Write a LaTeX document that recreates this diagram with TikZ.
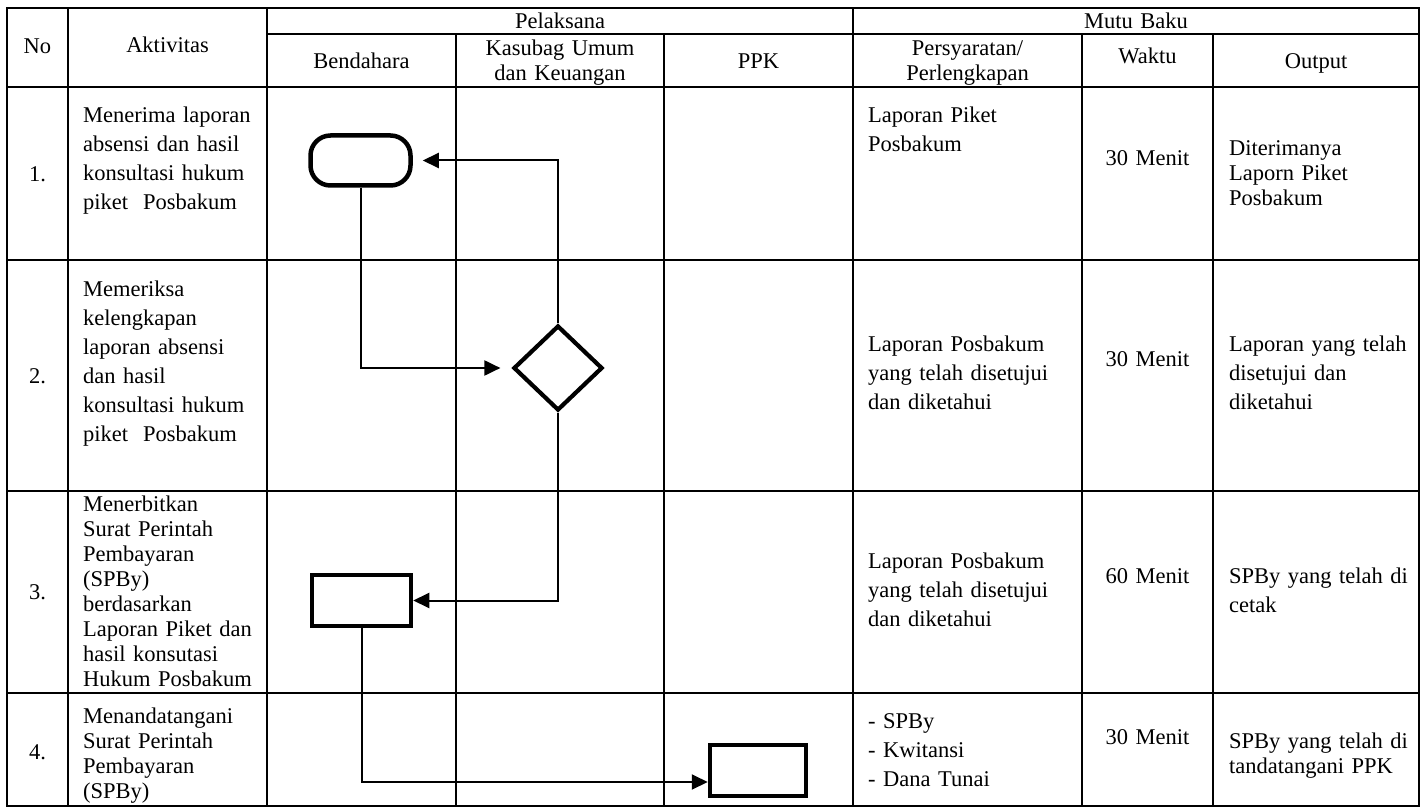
\documentclass[tikz,border=0pt]{standalone}
\usepackage{fontspec}
\setmainfont{Liberation Serif}
\usetikzlibrary{arrows.meta,shapes.geometric}
\begin{document}
\begin{tikzpicture}[x=1pt,y=-1pt,
  grid/.style={line width=2.5pt},
  conn/.style={line width=2pt,-{Triangle[length=16pt,width=15pt]}},
  shp/.style={draw,line width=4.5pt,inner sep=0pt},
  txt/.style={inner sep=0pt,anchor=base west,align=left,text width=330pt,font=\fontsize{22.5}{29}\selectfont},
  txtb/.style={txt,font=\fontsize{22.5}{25}\selectfont},
  ctr/.style={inner sep=0pt,anchor=base,align=center,text width=220pt,font=\fontsize{22.5}{25}\selectfont},
]
\useasboundingbox (0,0) rectangle (1426,810);
% table grid
\draw[grid] (7,8) rectangle (1419,806);
\draw[grid] (267,34) -- (1419,34);
\foreach \y in {87,260,491,693} \draw[grid] (7,\y) -- (1419,\y);
\foreach \x in {68,267,853} \draw[grid] (\x,8) -- (\x,806);
\foreach \x in {456,664,1082,1213} \draw[grid] (\x,34) -- (\x,806);
% header
\node[ctr] (hNo) at (37.5,54) {No};
\node[ctr] (hAkt) at (167.5,53) {Aktivitas};
\node[ctr] (hPel) at (560,29) {Pelaksana};
\node[ctr] (hMutu) at (1136,29) {Mutu Baku};
\node[ctr] (hBen) at (361.5,69) {Bendahara};
\node[ctr] (hKas) at (560,56) {Kasubag Umum\\dan Keuangan};
\node[ctr] (hPPK) at (758.5,69) {PPK};
\node[ctr] (hPer) at (967.5,56) {Persyaratan/\\Perlengkapan};
\node[ctr] (hWak) at (1147.5,64) {Waktu};
\node[ctr] (hOut) at (1316,69) {Output};
% numbers
\node[ctr] (n1) at (37.5,182) {1.};
\node[ctr] (n2) at (37.5,383) {2.};
\node[ctr] (n3) at (37.5,599) {3.};
\node[ctr] (n4) at (37.5,759) {4.};
% activities
\node[txt] (a1) at (83,123) {Menerima laporan\\absensi dan hasil\\konsultasi hukum\\piket~ Posbakum};
\node[txt] (a2) at (83,296) {Memeriksa\\kelengkapan\\laporan absensi\\dan hasil\\konsultasi hukum\\piket~ Posbakum};
\node[txtb] (a3) at (83,511) {Menerbitkan\\Surat Perintah\\Pembayaran\\(SPBy)\\berdasarkan\\Laporan Piket dan\\hasil konsutasi\\Hukum Posbakum};
\node[txtb] (a4) at (83,723) {Menandatangani\\Surat Perintah\\Pembayaran\\(SPBy)};
% persyaratan
\node[txt] (p1) at (868,123) {Laporan Piket\\Posbakum};
\node[txt] (p2) at (868,351) {Laporan Posbakum\\yang telah disetujui\\dan diketahui};
\node[txt] (p3) at (868,568) {Laporan Posbakum\\yang telah disetujui\\dan diketahui};
\node[txt] (p4t) at (868,728) {- SPBy\\- Kwitansi\\- Dana Tunai};
% waktu
\node[ctr] (w1) at (1147.5,166) {30 Menit};
\node[ctr] (w2) at (1147.5,366) {30 Menit};
\node[ctr] (w3) at (1147.5,583) {60 Menit};
\node[ctr] (w4) at (1147.5,744) {30 Menit};
% output
\node[txtb] (o1) at (1229,156) {Diterimanya\\Laporn Piket\\Posbakum};
\node[txt] (o2) at (1229,351) {Laporan yang telah\\disetujui dan\\diketahui};
\node[txt] (o3) at (1229,583) {SPBy yang telah di\\cetak};
\node[txtb] (o4) at (1229,748) {SPBy yang telah di\\tandatangani PPK};
% flow shapes
\node[shp,rounded corners=20pt,minimum width=100pt,minimum height=50pt] (term) at (360.5,160.5) {};
\node[shp,diamond,line width=4.2pt,minimum width=89pt,minimum height=85pt] (dia) at (558,368) {};
\node[shp,minimum width=99pt,minimum height=51pt] (r3) at (361.5,600.5) {};
\node[shp,minimum width=96pt,minimum height=51pt] (ppk) at (758,770.5) {};
% connectors
\draw[conn] (term.south) |- ([xshift=-11pt]dia.west);
\draw[conn] (dia.north) |- ([xshift=10pt]term.east);
\draw[conn] (dia.south) |- (r3.east);
\coordinate (p4) at ([yshift=-11.5pt]ppk.west);
\draw[conn] (r3.south) |- (p4);
\end{tikzpicture}
\end{document}
